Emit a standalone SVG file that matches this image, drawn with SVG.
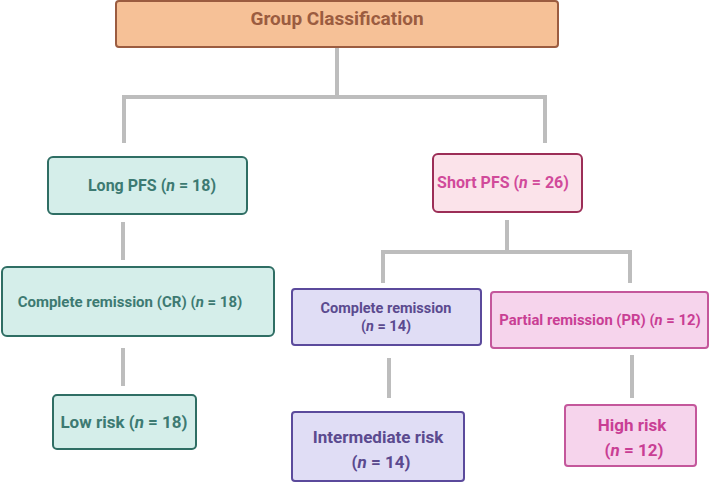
<svg xmlns="http://www.w3.org/2000/svg" width="709" height="482" viewBox="0 0 709 482">
<style>
text{font-family:Roboto,"Liberation Sans",sans-serif;font-weight:700;text-anchor:middle}
.i{font-style:italic}
.c{fill:none;stroke:#bdbdbd;stroke-width:4}
.teal rect{fill:#d5eeea;stroke:#2f6e64;stroke-width:2}
.teal text{fill:#3d7a72}
.pur rect{fill:#e0ddf5;stroke:#5b4a9c;stroke-width:2}
.pur text{fill:#5b4a8f}
.pink rect{fill:#f6d4ec;stroke:#c4579b;stroke-width:2}
.pink text{fill:#c93e94}
</style>
<rect width="709" height="482" fill="#fff"/>
<g id="connectors">
<path class="c" d="M337 47V97M124 143V97H545V143"/>
<path class="c" d="M123 222V260"/>
<path class="c" d="M123 348V386"/>
<path class="c" d="M507 220V252M383 283V252H630V283"/>
<path class="c" d="M389 358V398"/>
<path class="c" d="M632 355V398"/>
</g>
<g id="group-classification">
<rect x="116" y="1" width="442" height="46" rx="3" fill="#f6c197" stroke="#9b5c40" stroke-width="2"/>
<text x="337" y="25" font-size="19" fill="#9b5c40">Group Classification</text>
</g>
<g id="long-pfs" class="teal">
<rect x="48" y="157" width="199" height="57" rx="5"/>
<text x="152" y="191" font-size="16">Long PFS (<tspan class="i">n</tspan> = 18)</text>
</g>
<g id="short-pfs">
<rect x="433" y="154" width="149" height="58" rx="5" fill="#fbe3ea" stroke="#9c2e57" stroke-width="2"/>
<text x="503" y="188" font-size="16" fill="#d14a9a">Short PFS (<tspan class="i">n</tspan> = 26)</text>
</g>
<g id="cr-long" class="teal">
<rect x="2" y="267" width="272" height="69" rx="5"/>
<text x="130" y="307" font-size="15">Complete remission (CR) (<tspan class="i">n</tspan> = 18)</text>
</g>
<g id="cr-short" class="pur">
<rect x="292" y="289" width="189" height="56" rx="3"/>
<text x="386" y="313" font-size="14.5">Complete remission</text>
<text x="386" y="331" font-size="14.5">(<tspan class="i">n</tspan> = 14)</text>
</g>
<g id="pr" class="pink">
<rect x="491" y="292" width="217" height="56" rx="3"/>
<text x="600" y="325" font-size="14.8">Partial remission (PR) (<tspan class="i">n</tspan> = 12)</text>
</g>
<g id="low-risk" class="teal">
<rect x="53" y="395" width="143" height="54" rx="4"/>
<text x="124" y="428" font-size="17">Low risk (<tspan class="i">n</tspan> = 18)</text>
</g>
<g id="intermediate-risk" class="pur">
<rect x="292" y="412" width="172" height="69" rx="3"/>
<text x="378" y="443" font-size="17">Intermediate risk</text>
<text x="381" y="468" font-size="17">(<tspan class="i">n</tspan> = 14)</text>
</g>
<g id="high-risk" class="pink">
<rect x="565" y="405" width="131" height="61" rx="3"/>
<text x="632" y="431" font-size="17">High risk</text>
<text x="634" y="456" font-size="17">(<tspan class="i">n</tspan> = 12)</text>
</g>
</svg>
